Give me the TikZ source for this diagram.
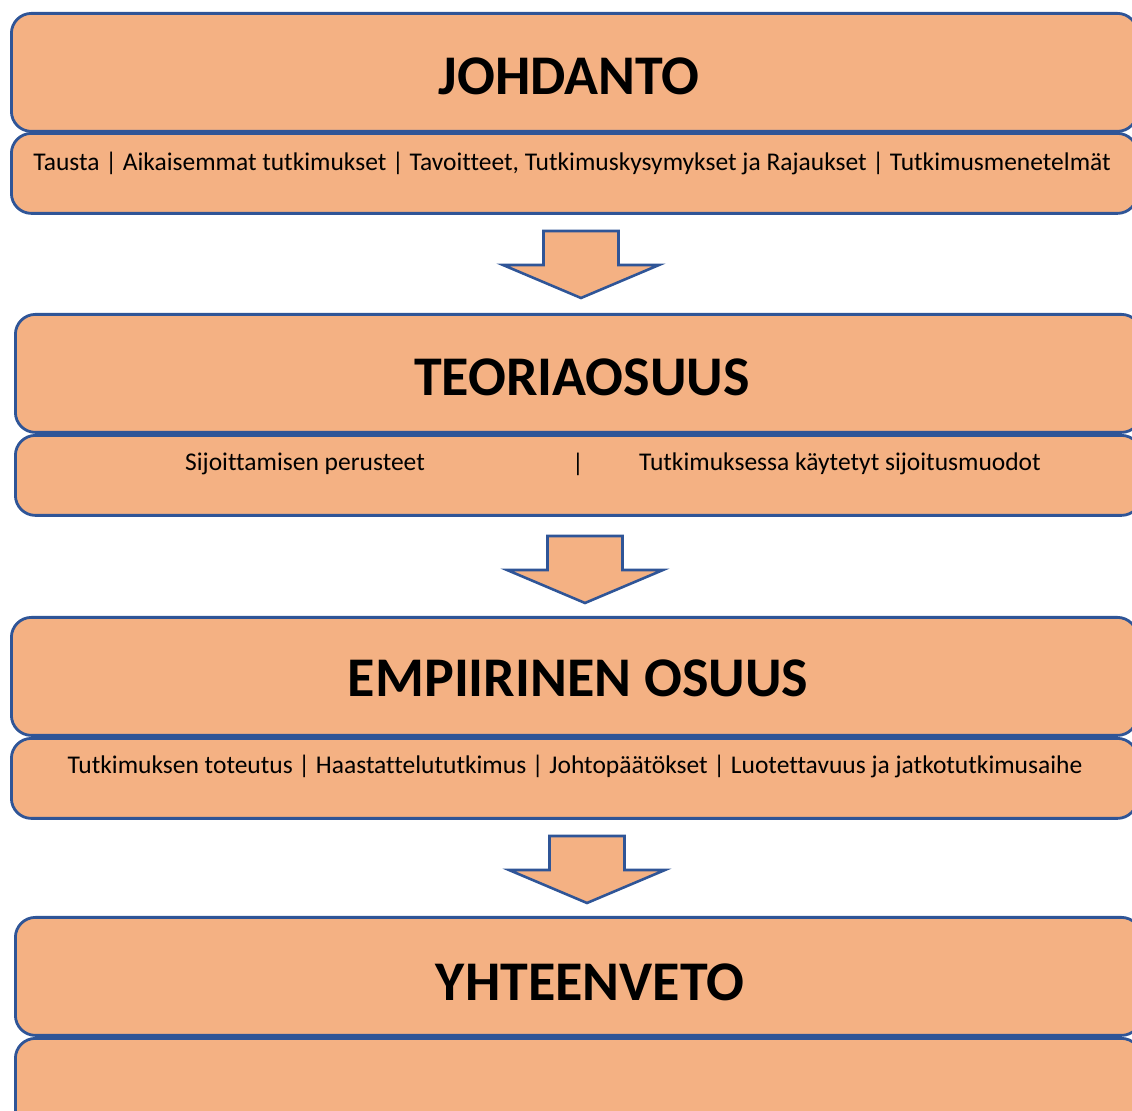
\documentclass[tikz,border=0pt]{standalone}
\usepackage{fontspec}
\setmainfont{Carlito}[Ligatures=NoCommon]
\usepackage{tikz}
\usetikzlibrary{positioning, calc}
\definecolor{boxfill}{RGB}{244,177,131}
\definecolor{boxline}{RGB}{47,85,151}

\begin{document}
\begin{tikzpicture}[
    x=0.5pt, y=-0.5pt,
    titlebox/.style={rectangle, rounded corners=10pt, draw=boxline, fill=boxfill, line width=1.4pt,
        anchor=north west, minimum width=563pt, minimum height=59pt, inner sep=0},
    subbox/.style={titlebox, minimum height=40pt},
    headline/.style={font=\fontsize{28}{32}\selectfont\bfseries},
    items/.style={font=\fontsize{12.75}{15}\selectfont},
    blockarrow/.style={draw=boxline, fill=boxfill, line width=1.3pt, line join=miter},
]
    \useasboundingbox (0,0) rectangle (1132,1111);
    \clip (0,0) rectangle (1132,1111);

    % Johdanto
    \node[titlebox] (johdanto) at (10,12) {};
    \node[subbox] (johdantosub) at (10,132) {};
    \node[headline] (johdantotxt) at (569,76) {JOHDANTO};
    \node[items] (johdantoitems) at (572,163)
        {Tausta | Aikaisemmat tutkimukset | Tavoitteet, Tutkimuskysymykset ja Rajaukset | Tutkimusmenetelmät};

    % Teoriaosuus
    \node[titlebox] (teoria) at (14,313) {};
    \node[subbox] (teoriasub) at (14,434) {};
    \node[headline] (teoriatxt) at (582,377) {TEORIAOSUUS};
    \node[items] (teoriaa) at (305,464) {Sijoittamisen perusteet};
    \node[items] (teoriabar) at (578,464) {|};
    \node[items] (teoriab) at (840,464) {Tutkimuksessa käytetyt sijoitusmuodot};

    % Empiirinen osuus
    \node[titlebox] (empiria) at (10,616) {};
    \node[subbox] (empiriasub) at (10,737) {};
    \node[headline] (empiriatxt) at (578,678) {EMPIIRINEN OSUUS};
    \node[items] (empiriaitems) at (575,766)
        {Tutkimuksen toteutus | Haastattelututkimus | Johtopäätökset | Luotettavuus ja jatkotutkimusaihe};

    % Yhteenveto
    \node[titlebox] (yhteenveto) at (14,916) {};
    \node[subbox, minimum height=60pt] (yhteenvetosub) at (14,1037) {};
    \node[headline] (yhteenvetotxt) at (590,982) {YHTEENVETO};

    % Block arrows
    \foreach \cx/\top in {581/231, 585/536, 587/836}
        \draw[blockarrow] (\cx-37.5,\top) -- (\cx+37.5,\top) -- (\cx+37.5,\top+34)
            -- (\cx+78,\top+34) -- (\cx,\top+67) -- (\cx-78,\top+34)
            -- (\cx-37.5,\top+34) -- cycle;

\end{tikzpicture}
\end{document}
